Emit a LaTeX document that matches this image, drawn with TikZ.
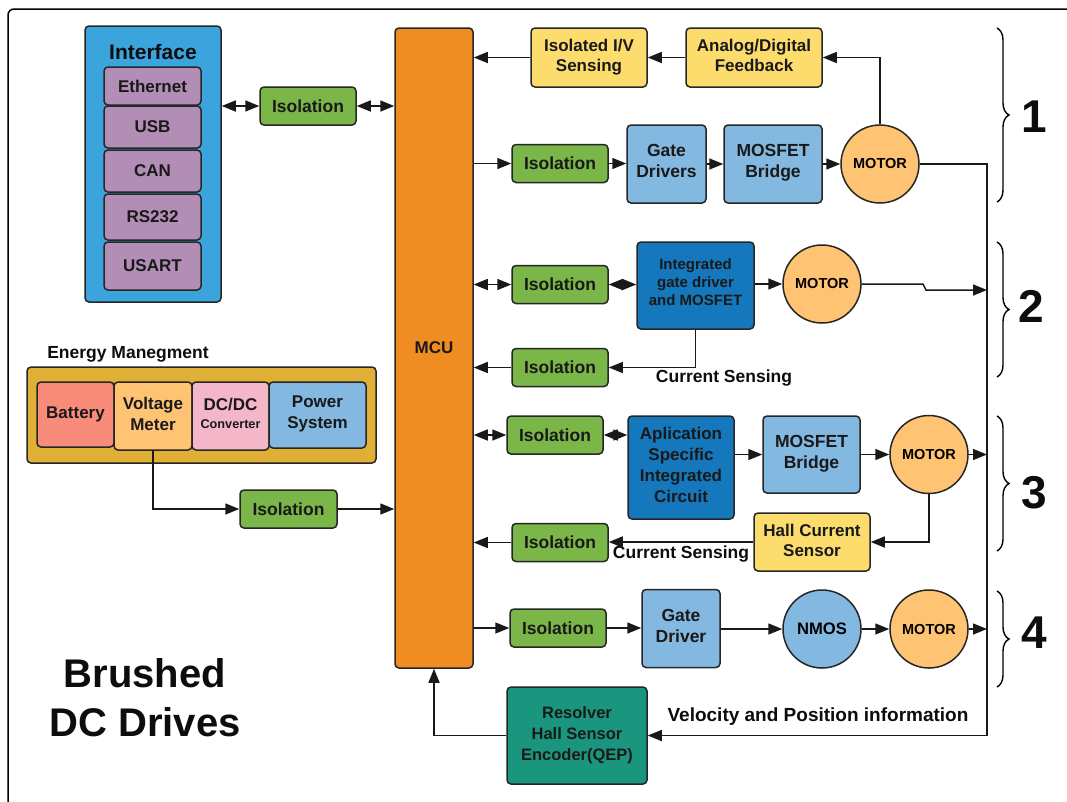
\documentclass[tikz,border=0pt]{standalone}
\usepackage{fontspec}
\setmainfont{Liberation Sans}
\usetikzlibrary{arrows.meta,decorations.pathreplacing,calc}

\definecolor{ifblue}{HTML}{3BA4DC}
\definecolor{ifpurple}{HTML}{B28DB5}
\definecolor{isogreen}{HTML}{7AB648}
\definecolor{mcuorange}{HTML}{EF8D22}
\definecolor{sensyellow}{HTML}{FDDC6E}
\definecolor{lightblue}{HTML}{83B8E1}
\definecolor{motororange}{HTML}{FFC374}
\definecolor{darkblue}{HTML}{1577BC}
\definecolor{teal}{HTML}{19967D}
\definecolor{energygold}{HTML}{DFAF36}
\definecolor{battred}{HTML}{F88B7A}
\definecolor{dcpink}{HTML}{F4B6C9}

\newcommand{\fs}[2]{\fontsize{#1}{#2}\selectfont}

\begin{document}
\begin{tikzpicture}[x=1pt,y=-1pt,
  box/.style={draw=black!85, line width=1.5pt, rounded corners=4pt, align=center,
              inner sep=0pt, text=black!90},
  iso/.style={box, fill=isogreen, minimum width=96pt, minimum height=38pt,
              font=\bfseries\fs{17.5}{20}},
  purp/.style={box, fill=ifpurple, minimum width=97pt, font=\bfseries\fs{17}{20}},
  sens/.style={box, fill=sensyellow, font=\bfseries\fs{17}{20}},
  lblue/.style={box, fill=lightblue, font=\bfseries\fs{17.5}{21}},
  dblue/.style={box, fill=darkblue, font=\bfseries\fs{17}{21}},
  motor/.style={circle, draw=black!85, line width=1.5pt, fill=motororange,
                minimum size=78pt, inner sep=0pt, font=\bfseries\fs{14.5}{16}},
  nmosc/.style={motor, fill=lightblue, font=\bfseries\fs{16.6}{18}},
  ebox/.style={box, minimum height=66pt, font=\bfseries\fs{17}{21}},
  wire/.style={line width=1.5pt, draw=black!90},
  arr/.style={wire, -{Triangle[length=14pt,width=11pt]}},
  darr/.style={wire, {Triangle[length=14pt,width=11pt]}-{Triangle[length=14pt,width=11pt]}},
  brace/.style={line width=1.4pt, decorate, decoration={brace, amplitude=12pt}},
  txt/.style={inner sep=0pt, align=center, text=black!95},
]
\useasboundingbox (0,0) rectangle (1067,801);
\fill[white] (0,0) rectangle (1067,801);

% outer frame
\draw[line width=1.5pt, rounded corners=6pt] (8,815) -- (8,9) -- (1080,9);

% interface block
\node[box, fill=ifblue, minimum width=136pt, minimum height=276pt] (iface) at (153,164) {};
\node[txt, font=\bfseries\fs{21}{23}] (ifacetitle) at (153,52) {Interface};
\node[purp, minimum height=38pt] (eth) at (152.5,86) {Ethernet};
\node[purp, minimum height=42pt] (usb) at (152.5,127) {USB};
\node[purp, minimum height=42pt] (can) at (152.5,171) {CAN};
\node[purp, minimum height=46pt] (rs) at (152.5,217) {RS232};
\node[purp, minimum height=48pt] (usart) at (152.5,266) {USART};
\node[iso] (isoA) at (308,106) {Isolation};

% MCU
\node[box, fill=mcuorange, minimum width=78pt, minimum height=640pt,
      font=\bfseries\fs{17}{19}] (mcu) at (434,348) {MCU};

% drive 1
\node[sens, minimum width=116pt, minimum height=59pt] (ivs) at (589,57.5) {Isolated I/V\\Sensing\rule[-4pt]{0pt}{1pt}};
\node[sens, minimum width=136pt, minimum height=59pt] (adf) at (754,57.5) {Analog/Digital\\Feedback\rule[-4pt]{0pt}{1pt}};
\node[iso] (iso1) at (560,163.5) {Isolation};
\node[lblue, minimum width=79pt, minimum height=78pt] (gd1) at (666.5,164) {Gate\\Drivers\rule[-6pt]{0pt}{1pt}};
\node[lblue, minimum width=98pt, minimum height=78pt] (mb1) at (773,164) {MOSFET\\Bridge\rule[-6pt]{0pt}{1pt}};
\node[motor] (m1) at (880,164) {MOTOR};

% drive 2
\node[iso] (iso2) at (560,284.5) {Isolation};
\node[dblue, minimum width=117pt, minimum height=87pt, font=\bfseries\fs{15}{18}] (igd) at (695.5,285.5)
  {Integrated\\gate driver\\and MOSFET\rule[-6pt]{0pt}{1pt}};
\node[motor] (m2) at (822,284) {MOTOR};
\node[iso] (iso2b) at (560,367.5) {Isolation};
\node[txt, font=\bfseries\fs{17.5}{20}] (cs2) at (724,378) {Current Sensing};

% energy management
\node[txt, font=\bfseries\fs{17.5}{20}] (entitle) at (128,354) {Energy Manegment};
\node[box, fill=energygold, minimum width=349pt, minimum height=96pt] (energy) at (201.5,415) {};
\node[ebox, fill=battred, minimum width=77pt, minimum height=65pt] (batt) at (75.5,414.5) {Battery};
\node[ebox, fill=motororange, minimum width=78pt, minimum height=68pt] (vm) at (153,416) {Voltage\\Meter\rule[-5pt]{0pt}{1pt}};
\node[ebox, fill=dcpink, minimum width=77pt, minimum height=68pt] (dcdc) at (230.5,416)
  {DC/DC\\[-3pt]{\fs{12.7}{14}Converter}\rule[-5pt]{0pt}{1pt}};
\node[ebox, fill=lightblue, minimum width=97pt, minimum height=66pt] (psys) at (317.5,415) {Power\\System\rule[-5pt]{0pt}{1pt}};
\node[iso, minimum width=97pt] (isoE) at (288.5,509) {Isolation};

% drive 3
\node[iso] (iso3) at (555,435) {Isolation};
\node[dblue, minimum width=106pt, minimum height=103pt] (asic) at (681,467.5)
  {Aplication\\Specific\\Integrated\\Circuit\rule[-5pt]{0pt}{1pt}};
\node[lblue, minimum width=97pt, minimum height=77pt] (mb3) at (811.5,454.5) {MOSFET\\Bridge\rule[-6pt]{0pt}{1pt}};
\node[motor] (m3) at (929,454.5) {MOTOR};
\node[sens, minimum width=116pt, minimum height=58pt] (hall) at (812,542) {Hall Current\\Sensor\rule[-4pt]{0pt}{1pt}};
\node[iso] (iso3b) at (560,542.5) {Isolation};
\node[txt, font=\bfseries\fs{17.5}{20}] (cs3) at (681,554) {Current Sensing};

% drive 4
\node[iso] (iso4) at (558,628) {Isolation};
\node[lblue, minimum width=78pt, minimum height=78pt] (gd4) at (681,628.5) {Gate\\Driver\rule[-6pt]{0pt}{1pt}};
\node[nmosc] (nmos) at (822,629) {NMOS};
\node[motor] (m4) at (929,629) {MOTOR};

% feedback sensor
\node[box, fill=teal, minimum width=140pt, minimum height=97pt, font=\bfseries\fs{16.5}{21}] (res) at (577,735.5)
  {Resolver\\Hall Sensor\\Encoder(QEP)\rule[-4pt]{0pt}{1pt}};
\node[txt, font=\bfseries\fs{19}{21}] (vel) at (818,717) {Velocity and Position information};

% title
\node[txt, font=\bfseries\fs{40}{49}] (title) at (145,698) {Brushed\\DC Drives};

% return bus
\coordinate (busTop) at (987,164);
\coordinate (busBot) at (987,735.5);

% connectors: interface
\draw[darr] (iface.east |- isoA.west) -- (isoA.west);
\draw[darr] (isoA.east) -- (isoA.east -| mcu.west);

% connectors: drive 1
\draw[arr] (m1.north) |- (adf.east);
\draw[arr] (adf.west) -- (ivs.east);
\draw[arr] (ivs.west) -- (ivs.west -| mcu.east);
\draw[arr] (iso1.west -| mcu.east) -- (iso1.west);
\draw[arr] (iso1.east) -- (iso1.east -| gd1.west);
\draw[arr] (gd1.east) -- (gd1.east -| mb1.west);
\draw[arr] (mb1.east) -- (mb1.east -| m1.west);
\draw[arr] (m1.east) -- (busTop) -- (busBot) -- (res.east);

% connectors: drive 2
\draw[darr] (iso2.west -| mcu.east) -- (iso2.west);
\draw[darr] (iso2.east) -- (iso2.east -| igd.west);
\draw[arr] (igd.east |- m2.west) -- (m2.west);
\draw[arr] (m2.east) -- (923,284) -- (926,290) -- (987,290);
\draw[arr] (igd.south) |- (iso2b.east);
\draw[arr] (iso2b.west) -- (iso2b.west -| mcu.east);

% connectors: energy
\draw[arr] (vm.south) |- (isoE.west);
\draw[arr] (isoE.east) -- (isoE.east -| mcu.west);

% connectors: drive 3
\draw[darr] (iso3.west -| mcu.east) -- (iso3.west);
\draw[darr] (iso3.east) -- (iso3.east -| asic.west);
\draw[arr] (asic.east |- mb3.west) -- (mb3.west);
\draw[arr] (mb3.east) -- (mb3.east -| m3.west);
\draw[arr] (m3.east) -- (m3.east -| busTop);
\draw[arr] (m3.south) |- (hall.east);
\draw[arr] (hall.west) -- (hall.west -| iso3b.east);
\draw[arr] (iso3b.west) -- (iso3b.west -| mcu.east);

% connectors: drive 4
\draw[arr] (iso4.west -| mcu.east) -- (iso4.west);
\draw[arr] (iso4.east) -- (iso4.east -| gd4.west);
\draw[arr] (gd4.east |- nmos.west) -- (nmos.west);
\draw[arr] (nmos.east) -- (m4.west);
\draw[arr] (m4.east) -- (m4.east -| busTop);

% feedback to MCU
\draw[arr] (res.west) -| (mcu.south);

% braces and drive numbers
\draw[brace] (997,28) -- (997,202);
\draw[brace] (997,242) -- (997,377);
\draw[brace] (997,416) -- (997,551);
\draw[brace] (997,591) -- (997,687);
\node[txt, font=\bfseries\fs{46}{50}] (n1) at (1034,117) {1};
\node[txt, font=\bfseries\fs{46}{50}] (n2) at (1031,306) {2};
\node[txt, font=\bfseries\fs{46}{50}] (n3) at (1034,493) {3};
\node[txt, font=\bfseries\fs{46}{50}] (n4) at (1034,633) {4};
\end{tikzpicture}
\end{document}
